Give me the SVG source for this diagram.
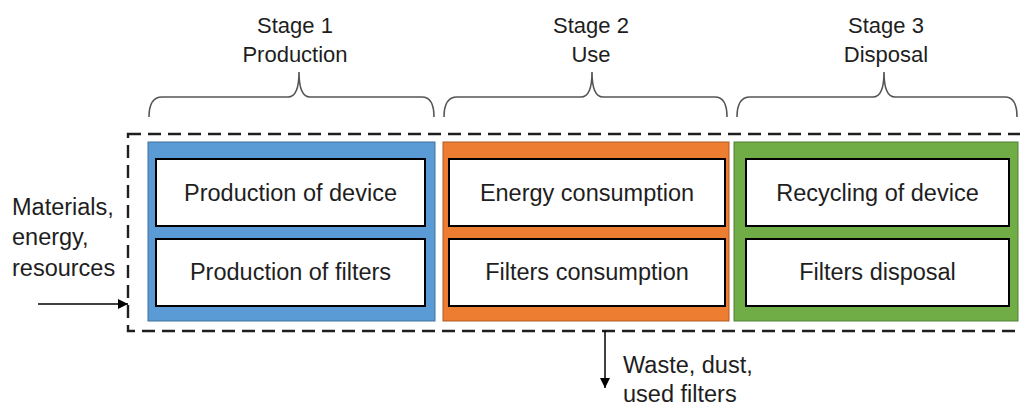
<svg xmlns="http://www.w3.org/2000/svg" width="1020" height="405" viewBox="0 0 1020 405">
<defs>
<style>
text{font-family:"Liberation Sans",Arial,sans-serif;font-size:23.5px;fill:#1e1e1e}
.s{font-size:22px}
.c{text-anchor:middle}
.brace{fill:none;stroke:#555;stroke-width:1.6}
.inner{fill:#fff;stroke:#000;stroke-width:2}
.dash{fill:none;stroke:#1e1e1e;stroke-width:2.4;stroke-dasharray:13 7}
.arr{stroke:#000;stroke-width:1.5;fill:none}
</style>
<marker id="ah" viewBox="0 0 10 10" refX="10" refY="5" markerWidth="10" markerHeight="10" markerUnits="userSpaceOnUse" orient="auto">
<path d="M0,0 L10,5 L0,10 Z" fill="#000"/>
</marker>
</defs>
<rect width="1020" height="405" fill="#fff"/>

<g id="stage1-label">
<text class="c s" x="295" y="33">Stage 1</text>
<text class="c s" x="295" y="62">Production</text>
<path class="brace" d="M149,117 Q149,97 162,97 L288,97 Q299,97 299,72 Q299,97 310,97 L422,97 Q434,97 434,117"/>
</g>
<g id="stage2-label">
<text class="c s" x="591" y="33">Stage 2</text>
<text class="c s" x="591" y="62">Use</text>
<path class="brace" d="M444,117 Q444,97 457,97 L581,97 Q592,97 592,72 Q592,97 603,97 L715,97 Q727,97 727,117"/>
</g>
<g id="stage3-label">
<text class="c s" x="886" y="33">Stage 3</text>
<text class="c s" x="886" y="62">Disposal</text>
<path class="brace" d="M737,117 Q737,97 750,97 L873,97 Q884,97 884,72 Q884,97 895,97 L1005,97 Q1017,97 1017,117"/>
</g>

<g id="system-boundary">
<rect class="dash" x="128" y="134" width="905" height="197"/>
</g>

<g id="stage1">
<rect x="148" y="142" width="287" height="179" fill="#5B9BD5" stroke="#41719C" stroke-width="1"/>
<g id="production-device">
<rect class="inner" x="156" y="159" width="269" height="67"/>
<text class="c" x="290.5" y="200.5">Production of device</text>
</g>
<g id="production-filters">
<rect class="inner" x="156" y="239" width="269" height="67"/>
<text class="c" x="290.5" y="280">Production of filters</text>
</g>
</g>

<g id="stage2">
<rect x="443" y="142" width="286" height="179" fill="#ED7D31" stroke="#AE5A21" stroke-width="1"/>
<g id="energy-consumption">
<rect class="inner" x="449" y="159" width="276" height="67"/>
<text class="c" x="587" y="200.5">Energy consumption</text>
</g>
<g id="filters-consumption">
<rect class="inner" x="449" y="239" width="276" height="67"/>
<text class="c" x="587" y="280">Filters consumption</text>
</g>
</g>

<g id="stage3">
<rect x="734" y="142" width="284" height="179" fill="#70AD47" stroke="#507E32" stroke-width="1"/>
<g id="recycling-device">
<rect class="inner" x="746" y="159" width="263" height="67"/>
<text class="c" x="877.5" y="200.5">Recycling of device</text>
</g>
<g id="filters-disposal">
<rect class="inner" x="746" y="239" width="263" height="67"/>
<text class="c" x="877.5" y="280">Filters disposal</text>
</g>
</g>

<g id="input">
<text x="12" y="215">Materials,</text>
<text x="12" y="245">energy,</text>
<text x="12" y="276">resources</text>
</g>
<g id="output">
<text x="623" y="373">Waste, dust,</text>
<text x="623" y="402">used filters</text>
</g>

<g id="connectors">
<line class="arr" x1="38" y1="304" x2="128" y2="304" marker-end="url(#ah)"/>
<line class="arr" x1="605" y1="331" x2="605" y2="388" marker-end="url(#ah)"/>
</g>
</svg>
